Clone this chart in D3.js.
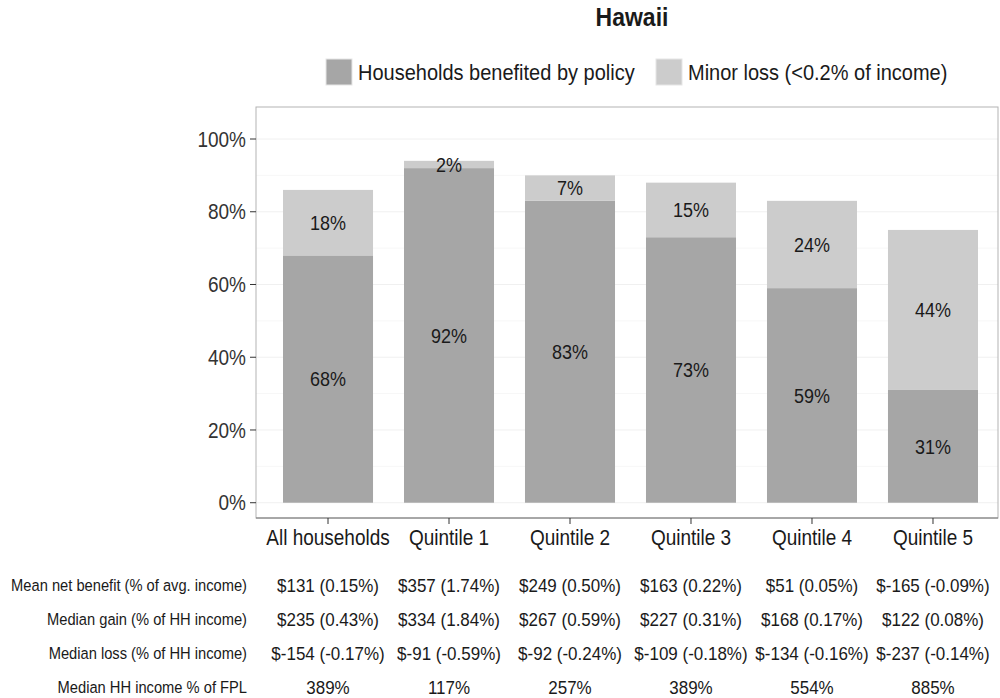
<!DOCTYPE html>
<html>
<head>
<meta charset="utf-8">
<script src="https://cdn.jsdelivr.net/npm/d3@7"></script>
<style>
  body { margin: 0; background: #fff; }
  text { font-family: "Liberation Sans", Arial, sans-serif; fill: #1a1a1a; }
</style>
</head>
<body>
<svg id="chart" width="1000" height="698"></svg>
<script>
// chart values
var categories = ['All households', 'Quintile 1', 'Quintile 2', 'Quintile 3', 'Quintile 4', 'Quintile 5']
var benefited = [68, 92, 83, 73, 59, 31]
var minorLoss = [18, 2, 7, 15, 24, 44]
var yTicks = [0, 20, 40, 60, 80, 100]
var rowLabels = ['Mean net benefit (% of avg. income)', 'Median gain (% of HH income)', 'Median loss (% of HH income)', 'Median HH income % of FPL']
var meanNet = ['$131 (0.15%)', '$357 (1.74%)', '$249 (0.50%)', '$163 (0.22%)', '$51 (0.05%)', '$-165 (-0.09%)']
var medianGain = ['$235 (0.43%)', '$334 (1.84%)', '$267 (0.59%)', '$227 (0.31%)', '$168 (0.17%)', '$122 (0.08%)']
var medianLoss = ['$-154 (-0.17%)', '$-91 (-0.59%)', '$-92 (-0.24%)', '$-109 (-0.18%)', '$-134 (-0.16%)', '$-237 (-0.14%)']
var medianFpl = ['389%', '117%', '257%', '389%', '554%', '885%']
var seriesNames = ['Households benefited by policy', 'Minor loss (<0.2% of income)']

var colors = ['#a6a6a6', '#cccccc']

// the reference text is a little taller than it is wide
function stretch(sel){
	sel.each(function(){
		var t = d3.select(this)
		var tx = +t.attr('x'), ty = +t.attr('y')
		t.attr('x', 0).attr('y', 0)
		 .attr('transform', 'translate(' + tx + ',' + ty + ') scale(1,1.12)')
	})
}

function draw(){
	var svg = d3.select('svg#chart')
	var panel = {left: 256, right: 998, top: 107, bottom: 518}

	var x = d3.scaleBand()
		.domain(categories)
		.range([258.8, 1002.2])
		.paddingInner(0.256)
		.paddingOuter(0.2)
	var y = d3.scaleLinear()
		.domain([-4.2, 108.8])
		.range([panel.bottom, panel.top])

	// grid
	var grid = svg.append('g')
	var minor = d3.range(10, 110, 20)
	grid.selectAll('line.minor')
		.data(minor)
		.enter()
		.append('line')
		.attr('x1', panel.left).attr('x2', panel.right)
		.attr('y1', function(d){return y(d)}).attr('y2', function(d){return y(d)})
		.style('stroke', '#f7f7f7')
	grid.selectAll('line.major')
		.data(yTicks)
		.enter()
		.append('line')
		.attr('x1', panel.left).attr('x2', panel.right)
		.attr('y1', function(d){return y(d)}).attr('y2', function(d){return y(d)})
		.style('stroke', '#f0f0f0')

	// stacked bars
	var stack = categories.map(function(c, i){
		return [
			{cat: c, y0: 0, y1: benefited[i], v: benefited[i], s: 0},
			{cat: c, y0: benefited[i], y1: benefited[i] + minorLoss[i], v: minorLoss[i], s: 1}
		]
	})
	var segs = [].concat.apply([], stack)
	var g = svg.append('g')
	g.selectAll('rect.bar')
		.data(segs)
		.enter()
		.append('rect')
		.attr('class', 'bar')
		.attr('x', function(d){return x(d.cat)})
		.attr('width', x.bandwidth())
		.attr('y', function(d){return y(d.y1)})
		.attr('height', function(d){return y(d.y0) - y(d.y1)})
		.style('fill', function(d){return colors[d.s]})
	g.selectAll('text.val')
		.data(segs)
		.enter()
		.append('text')
		.attr('class', 'val')
		.attr('x', function(d){return x(d.cat) + x.bandwidth() / 2})
		.attr('y', function(d){return y((d.y0 + d.y1) / 2)})
		.attr('dy', '0.36em')
		.attr('text-anchor', 'middle')
		.style('font-size', '18px')
		.text(function(d){return d.v + '%'})
		.call(stretch)

	// panel border
	svg.append('rect')
		.attr('x', panel.left).attr('y', panel.top)
		.attr('width', panel.right - panel.left).attr('height', panel.bottom - panel.top)
		.style('fill', 'none')
		.style('stroke', '#b3b3b3')
	svg.append('line')
		.attr('x1', panel.left).attr('x2', panel.right)
		.attr('y1', panel.bottom).attr('y2', panel.bottom)
		.style('stroke', '#777')

	// y axis
	var yAxis = svg.append('g')
	yAxis.selectAll('line.tick')
		.data(yTicks)
		.enter()
		.append('line')
		.attr('x1', panel.left - 6).attr('x2', panel.left)
		.attr('y1', function(d){return y(d)}).attr('y2', function(d){return y(d)})
		.style('stroke', '#333')
	yAxis.selectAll('text')
		.data(yTicks)
		.enter()
		.append('text')
		.attr('x', panel.left - 10)
		.attr('y', function(d){return y(d)})
		.attr('dy', '0.36em')
		.attr('text-anchor', 'end')
		.style('font-size', '19px')
		.style('fill', '#333')
		.text(function(d){return d + '%'})
		.call(stretch)

	// x axis
	var xAxis = svg.append('g')
	xAxis.selectAll('line')
		.data(categories)
		.enter()
		.append('line')
		.attr('x1', function(d){return x(d) + x.bandwidth() / 2})
		.attr('x2', function(d){return x(d) + x.bandwidth() / 2})
		.attr('y1', panel.bottom).attr('y2', panel.bottom + 6)
		.style('stroke', '#333')
	xAxis.selectAll('text')
		.data(categories)
		.enter()
		.append('text')
		.attr('x', function(d){return x(d) + x.bandwidth() / 2})
		.attr('y', 545)
		.attr('text-anchor', 'middle')
		.style('font-size', '19px')
		.text(function(d){return d})
		.call(stretch)

	// table below the chart
	var rows = [meanNet, medianGain, medianLoss, medianFpl]
	var rowY = d3.scalePoint().domain(d3.range(rows.length)).range([585, 687])
	var table = svg.append('g')
	table.selectAll('text.rowlab')
		.data(rowLabels)
		.enter()
		.append('text')
		.attr('class', 'rowlab')
		.attr('x', 247)
		.attr('y', function(d, i){return rowY(i)})
		.attr('dy', '0.36em')
		.attr('text-anchor', 'end')
		.style('font-size', '14.7px')
		.text(function(d){return d})
		.call(stretch)
	rows.forEach(function(r, i){
		table.selectAll('text.cell' + i)
			.data(r)
			.enter()
			.append('text')
			.attr('class', 'cell' + i)
			.attr('x', function(d, j){return x(categories[j]) + x.bandwidth() / 2})
			.attr('y', rowY(i))
			.attr('dy', '0.36em')
			.attr('text-anchor', 'middle')
			.style('font-size', '17px')
			.text(function(d){return d})
			.call(stretch)
	})

	// title
	svg.append('text')
		.attr('x', 632)
		.attr('y', 26)
		.attr('text-anchor', 'middle')
		.style('font-size', '23px')
		.style('font-weight', 'bold')
		.text('Hawaii')
		.call(stretch)

	// legend
	var legendX = [325, 655]
	var legend = svg.append('g')
	seriesNames.forEach(function(n, i){
		legend.append('rect')
			.attr('x', legendX[i] + 1).attr('y', 59)
			.attr('width', 26).attr('height', 26)
			.style('fill', colors[i])
			.style('stroke', '#e6e6e6')
		legend.append('text')
			.attr('x', legendX[i] + 33)
			.attr('y', 72)
			.attr('dy', '0.36em')
			.style('font-size', '20px')
			.text(n)
			.call(stretch)
	})
}
draw()
</script>
</body>
</html>
